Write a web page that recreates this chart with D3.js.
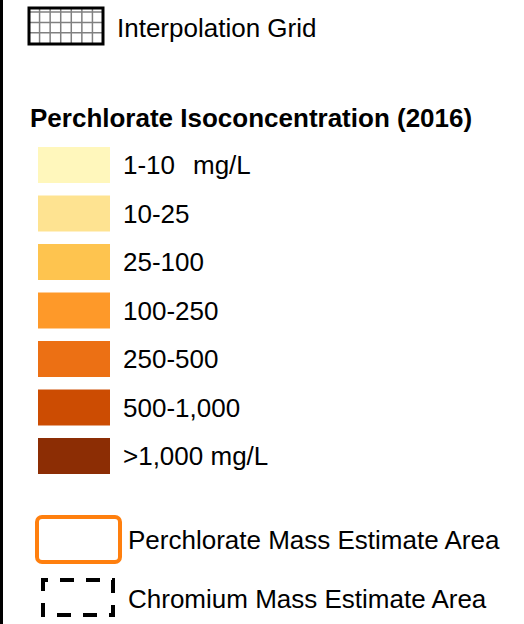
<!DOCTYPE html>
<html>
<head>
<meta charset="utf-8">
<script src="https://cdn.jsdelivr.net/npm/d3@7"></script>
<style>
  body { margin: 0; background: #fff; }
  svg { display: block; font-family: "Liberation Sans", Arial, sans-serif; }
</style>
</head>
<body>
<script>
// legend data
const classLabels = ["1-10", "10-25", "25-100", "100-250", "250-500", "500-1,000", ">1,000 mg/L"];
const classColors = ["#fff7bc", "#fee391", "#fec44f", "#fe9929", "#ec7014", "#cc4c02", "#8c2d04"];
const titleText = "Perchlorate Isoconcentration (2016)";
const gridLabel = "Interpolation Grid";
const areaLabels = ["Perchlorate Mass Estimate Area", "Chromium Mass Estimate Area"];

let width = 524, height = 624;
let fontSize = 26;

let svg = d3.select("body").append("svg")
  .attr("width", width)
  .attr("height", height);

// left frame edge
svg.append("line")
  .attr("x1", 1.5).attr("x2", 1.5)
  .attr("y1", 0).attr("y2", height)
  .attr("stroke", "#000").attr("stroke-width", 3);

// interpolation grid icon
let gx = d3.scaleLinear().domain([0, 7]).range([29, 103]);
let gy = d3.scaleLinear().domain([0, 3.5]).range([8, 44]);
let grid = svg.append("g");
grid.selectAll("line.v").data(d3.range(1, 7)).join("line")
  .attr("x1", d => gx(d)).attr("x2", d => gx(d))
  .attr("y1", gy(0)).attr("y2", gy(3.5))
  .attr("stroke", "#808080").attr("stroke-width", 1.5);
grid.selectAll("line.h").data([0.4, 1.4, 2.4]).join("line")
  .attr("x1", gx(0)).attr("x2", gx(7))
  .attr("y1", d => gy(d)).attr("y2", d => gy(d))
  .attr("stroke", "#808080").attr("stroke-width", 1.5);
grid.append("rect")
  .attr("x", gx(0)).attr("y", gy(0))
  .attr("width", gx(7) - gx(0)).attr("height", gy(3.5) - gy(0))
  .attr("fill", "none").attr("stroke", "#000").attr("stroke-width", 3);
svg.append("text")
  .attr("x", 117).attr("y", 37)
  .attr("font-size", fontSize).text(gridLabel);

// title
svg.append("text")
  .attr("x", 30).attr("y", 127)
  .attr("font-size", fontSize).attr("font-weight", "bold")
  .text(titleText);

// class swatches
let yBand = d3.scaleBand()
  .domain(classLabels)
  .range([147, 474])
  .paddingInner(0.258).paddingOuter(0);

let rows = svg.selectAll("g.cls").data(classLabels).join("g")
  .attr("transform", d => "translate(0," + yBand(d) + ")");
rows.append("rect")
  .attr("x", 38).attr("width", 72)
  .attr("height", yBand.bandwidth())
  .attr("fill", (d, i) => classColors[i]);
rows.append("text")
  .attr("x", 123).attr("y", yBand.bandwidth() / 2 + 9.5)
  .attr("font-size", fontSize)
  .text(d => d);
// unit on first row
svg.append("text")
  .attr("x", 193).attr("y", yBand(classLabels[0]) + yBand.bandwidth() / 2 + 9.5)
  .attr("font-size", fontSize).text("mg/L");

// mass estimate areas
svg.append("rect")
  .attr("x", 37).attr("y", 517)
  .attr("width", 83).attr("height", 45)
  .attr("rx", 5)
  .attr("fill", "none").attr("stroke", "#ff7f0e").attr("stroke-width", 4);
svg.append("text")
  .attr("x", 128).attr("y", 549)
  .attr("font-size", fontSize).text(areaLabels[0]);

svg.append("rect")
  .attr("x", 43).attr("y", 580)
  .attr("width", 70).attr("height", 35)
  .attr("fill", "none").attr("stroke", "#000").attr("stroke-width", 4)
  .attr("stroke-dasharray", "14,12")
  .attr("stroke-dashoffset", 9);
svg.append("text")
  .attr("x", 128).attr("y", 608)
  .attr("font-size", fontSize).text(areaLabels[1]);
</script>
</body>
</html>
